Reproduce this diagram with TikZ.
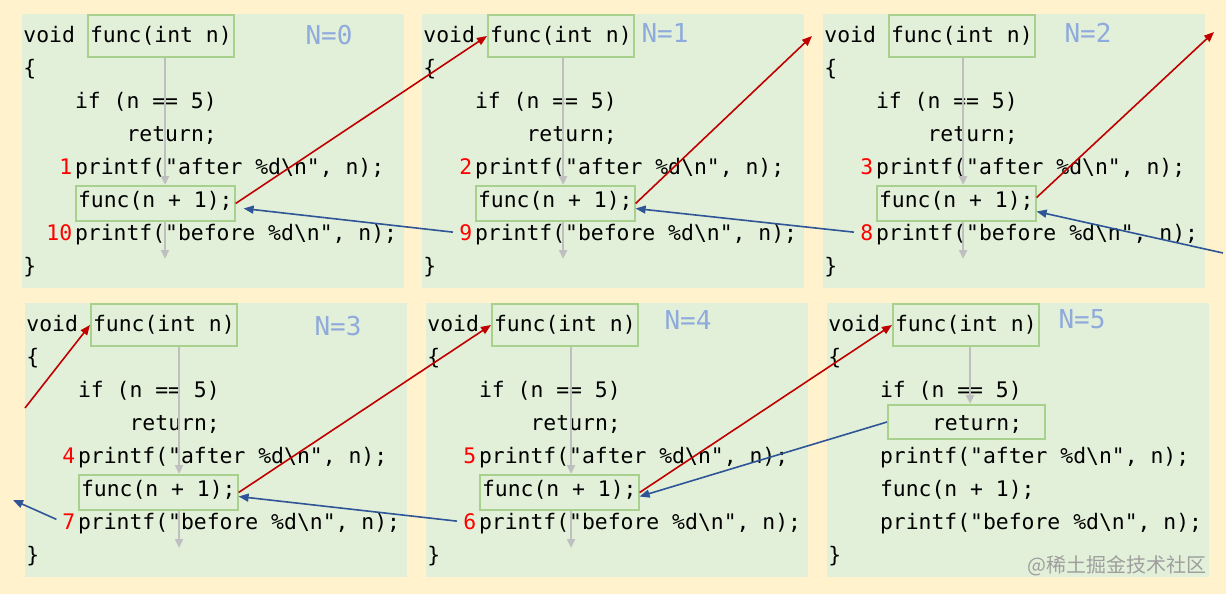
\documentclass[tikz,border=0pt]{standalone}
\usepackage{fontspec}
\setmonofont{DejaVu Sans Mono}
\newfontfamily\cjkfont{Noto Sans CJK SC}
\usetikzlibrary{arrows.meta}
\definecolor{cream}{HTML}{FFF2CC}
\definecolor{leaf}{HTML}{E2F0D9}
\definecolor{boxgreen}{HTML}{A9D18E}
\definecolor{callred}{HTML}{C00000}
\definecolor{backblue}{HTML}{2F5597}
\definecolor{tagblue}{HTML}{8FAADC}
\definecolor{flowgray}{HTML}{BFBFBF}
\newcommand\codefnt{\ttfamily\fontsize{10.7}{13}\selectfont}

\begin{document}
\begin{tikzpicture}[
        x=0.5pt, y=-0.5pt,
        code/.style={font=\codefnt, inner sep=0pt, anchor=base west},
        sigbox/.style={code, draw=boxgreen, line width=1pt, inner xsep=1pt, inner ysep=1pt, text height=12.5pt, text depth=6.5pt},
        callbox/.style={sigbox, text height=9.75pt, text depth=5.75pt},
        retbox/.style={sigbox, text height=11.65pt, text depth=3.35pt},
        num/.style={font=\codefnt, text=red, inner sep=0pt, anchor=base east, xshift=-1pt},
        tag/.style={font=\ttfamily\fontsize{13}{15}\selectfont, text=tagblue, inner sep=0pt},
        wmark/.style={font=\cjkfont\fontsize{10}{12}\selectfont, text=black!38, anchor=east, inner sep=0pt},
        flow/.style={flowgray, line width=1.2pt, -{Triangle[length=4.5pt, width=4pt]}},
        call/.style={callred, line width=0.8pt, -{Triangle[length=5pt, width=4pt]}},
        back/.style={backblue, line width=0.8pt, -{Triangle[length=5pt, width=4pt]}}
    ]

        \fill[cream] (0,0) rectangle (1226,594);
        \useasboundingbox (0,0) rectangle (1226,594);

        % one panel per call depth
        \foreach \i/\x/\y/\fx in {0/22/14/143, 1/422/14/141, 2/823/14/140, 3/25/303/154, 4/426/303/145, 5/827/303/143} {
            \fill[leaf] (\x,\y) rectangle ++(382,274);
            \node[code] (void\i) at ({\x+1},{\y+28}) {void};
            \node[sigbox] (sig\i) at ({\x+65},{\y+28}) {func(int n)};
            \node[code] (open\i) at ({\x+1},{\y+61.1}) {\{};
            \node[code] (if\i) at ({\x+52.6},{\y+94.2}) {if (n == 5)};
            \node[code] (aft\i) at ({\x+52.6},{\y+160.4}) {printf("after \%d\textbackslash n", n);};
            \node[code] (bef\i) at ({\x+52.6},{\y+226.6}) {printf("before \%d\textbackslash n", n);};
            \node[code] (close\i) at ({\x+1},{\y+259.7}) {\}};
            \ifnum\i<5
                \node[code] (ret\i) at ({\x+104.2},{\y+127.3}) {return;};
                \node[callbox] (call\i) at ({\x+53},{\y+193.5}) {func(n + 1);};
                \coordinate (fx\i) at ({\x+\fx},{\y+245});
                \draw[flow] (sig\i.south -| fx\i) -- (call\i.north -| fx\i);
                \draw[flow] (call\i.south -| fx\i) -- (fx\i);
            \else
                \node[retbox] (ret\i) at ({\x+60},{\y+127.3}) {\hspace*{21pt}return;\hspace*{10.4pt}};
                \node[code] (call\i) at ({\x+52.6},{\y+193.5}) {func(n + 1);};
                \coordinate (fx\i) at ({\x+\fx},0);
                \draw[flow] (sig\i.south -| fx\i) -- (ret\i.north -| fx\i);
            \fi
        }

        \foreach \i/\a/\b in {0/1/10, 1/2/9, 2/3/8, 3/4/7, 4/5/6} {
            \node[num] (n\a) at (aft\i.base west) {\a};
            \node[num] (n\b) at (bef\i.base west) {\b};
        }

        \foreach \i/\tx/\ty in {0/329/35, 1/665/33, 2/1088/33, 3/338/326, 4/688/320, 5/1082/319}
            \node[tag] (tag\i) at (\tx,\ty) {N=\i};

        \coordinate (out1) at (812,36);
        \coordinate (out2) at (1214,32);
        \coordinate (in3) at (25,408);
        \coordinate (in2) at (1223,253);
        \coordinate (out3) at (13,500);

        % calls going down
        \draw[call] (call0.east) -- (sig1.west);
        \draw[call] (call1.east) -- (out1);
        \draw[call] ([yshift=3pt]call2.east) -- (out2);
        \draw[call] (in3) -- (sig3.west);
        \draw[call] (call3.east) -- (sig4.west);
        \draw[call] (call4.east) -- (sig5.west);

        % returns coming back
        \draw[back] (ret5.west) -- ([yshift=-2pt]call4.east);
        \draw[back, shorten <=3pt] (n6.west) -- ([yshift=-2pt]call3.east);
        \draw[back, shorten <=3pt] (n7.west) -- (out3);
        \draw[back] (in2) -- ([yshift=-4pt]call2.east);
        \draw[back, shorten <=3pt] (n8.west) -- ([yshift=-2.5pt]call1.east);
        \draw[back, shorten <=3pt] (n9.west) -- ([xshift=4pt, yshift=-2.5pt]call0.east);

        \node[wmark] (wm) at (1207,566) {@稀土掘金技术社区};
    \end{tikzpicture}
\end{document}
